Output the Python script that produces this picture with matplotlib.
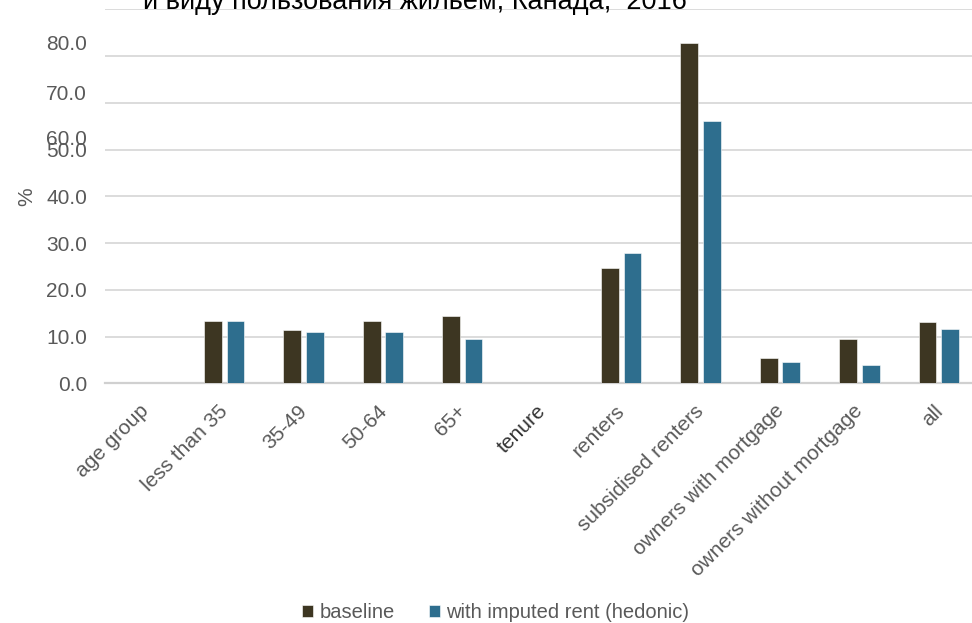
import matplotlib
matplotlib.use('Agg')
import matplotlib.pyplot as plt
import matplotlib.transforms as mtransforms
import numpy as np

plt.rcParams['font.family'] = ['Liberation Sans', 'DejaVu Sans']

# data (percent)
categories = ["age group", "less than 35", "35-49", "50-64", "65+", "tenure",
              "renters", "subsidised renters", "owners with mortgage",
              "owners without mortgage", "all"]
baseline = [np.nan, 13.4, 11.3, 13.4, 14.4, np.nan, 24.7, 72.8, 5.4, 9.4, 13.1]
hedonic = [np.nan, 13.3, 10.9, 10.9, 9.5, np.nan, 27.9, 56.1, 4.5, 3.9, 11.7]
series_names = ["baseline", "with imputed rent (hedonic)"]
title_line = "и виду пользования жильем, Канада,  2016"

# the source chart has its upper tick labels drawn off their gridlines
grid_ticks = [0, 10, 20, 30, 40, 50, 60, 70, 80]
grid_labels = ["0.0", "10.0", "20.0", "30.0", "40.0", "50.0", "", "", ""]
stray_ticks = [52.6, 62.3, 72.8]
stray_labels = ["60.0", "70.0", "80.0"]

dark = '#3d3622'
blue = '#2e6e8e'
grey = '#595959'

fig = plt.figure(figsize=(9.72, 6.23), dpi=100)
ax = fig.add_axes([105 / 972, 239.7 / 623, 873.5 / 972, 374.0 / 623])

x = np.arange(len(categories))
w = 0.223
ax.bar(x - 0.142, baseline, w, color=dark, edgecolor='white', linewidth=0.4,
       label=series_names[0], zorder=3)
ax.bar(x + 0.142, hedonic, w, color=blue, edgecolor='white', linewidth=0.4,
       label=series_names[1], zorder=3)

ax.set_xlim(-0.5, len(categories) - 0.5)
ax.set_ylim(0, 80)
ax.set_yticks(grid_ticks)
ax.set_yticklabels(grid_labels)
ax.set_yticks(stray_ticks, minor=True)
ax.set_yticklabels(stray_labels, minor=True)
ax.yaxis.grid(True, which='major', color='#d9d9d9', linewidth=1.3, zorder=0)
ax.tick_params(axis='y', which='both', length=0, pad=13, labelsize=15,
               labelcolor=grey)

ax.set_xticks(x)
ax.set_xticklabels(categories, rotation=45, ha='right', rotation_mode='anchor',
                   fontsize=15, color=grey)
ax.tick_params(axis='x', length=0, pad=13)
shift = mtransforms.ScaledTranslation(-6 / 100, 0, fig.dpi_scale_trans)
for i, lab in enumerate(ax.get_xticklabels()):
    lab.set_transform(lab.get_transform() + shift)
    if categories[i] == "tenure":
        lab.set_color('#333333')

for s in ['top', 'right', 'left']:
    ax.spines[s].set_visible(False)
ax.spines['bottom'].set_color('#d0d0d0')
ax.spines['bottom'].set_linewidth(1.6)

ax.set_ylabel('%', fontsize=15, color=grey)
ax.yaxis.set_label_coords(-69 / 873.5, 0.5)

fig.text(0.427, 1 - 9 / 623, title_line, ha='center', va='baseline',
         fontsize=19.5, color='black')

fig.legend(loc='center', bbox_to_anchor=(0.51, 10 / 623), ncol=2, frameon=False,
           fontsize=14.5, labelcolor=grey, handlelength=0.55, handleheight=0.55,
           handletextpad=0.3, columnspacing=1.7)

plt.savefig('out.png', dpi=100)
